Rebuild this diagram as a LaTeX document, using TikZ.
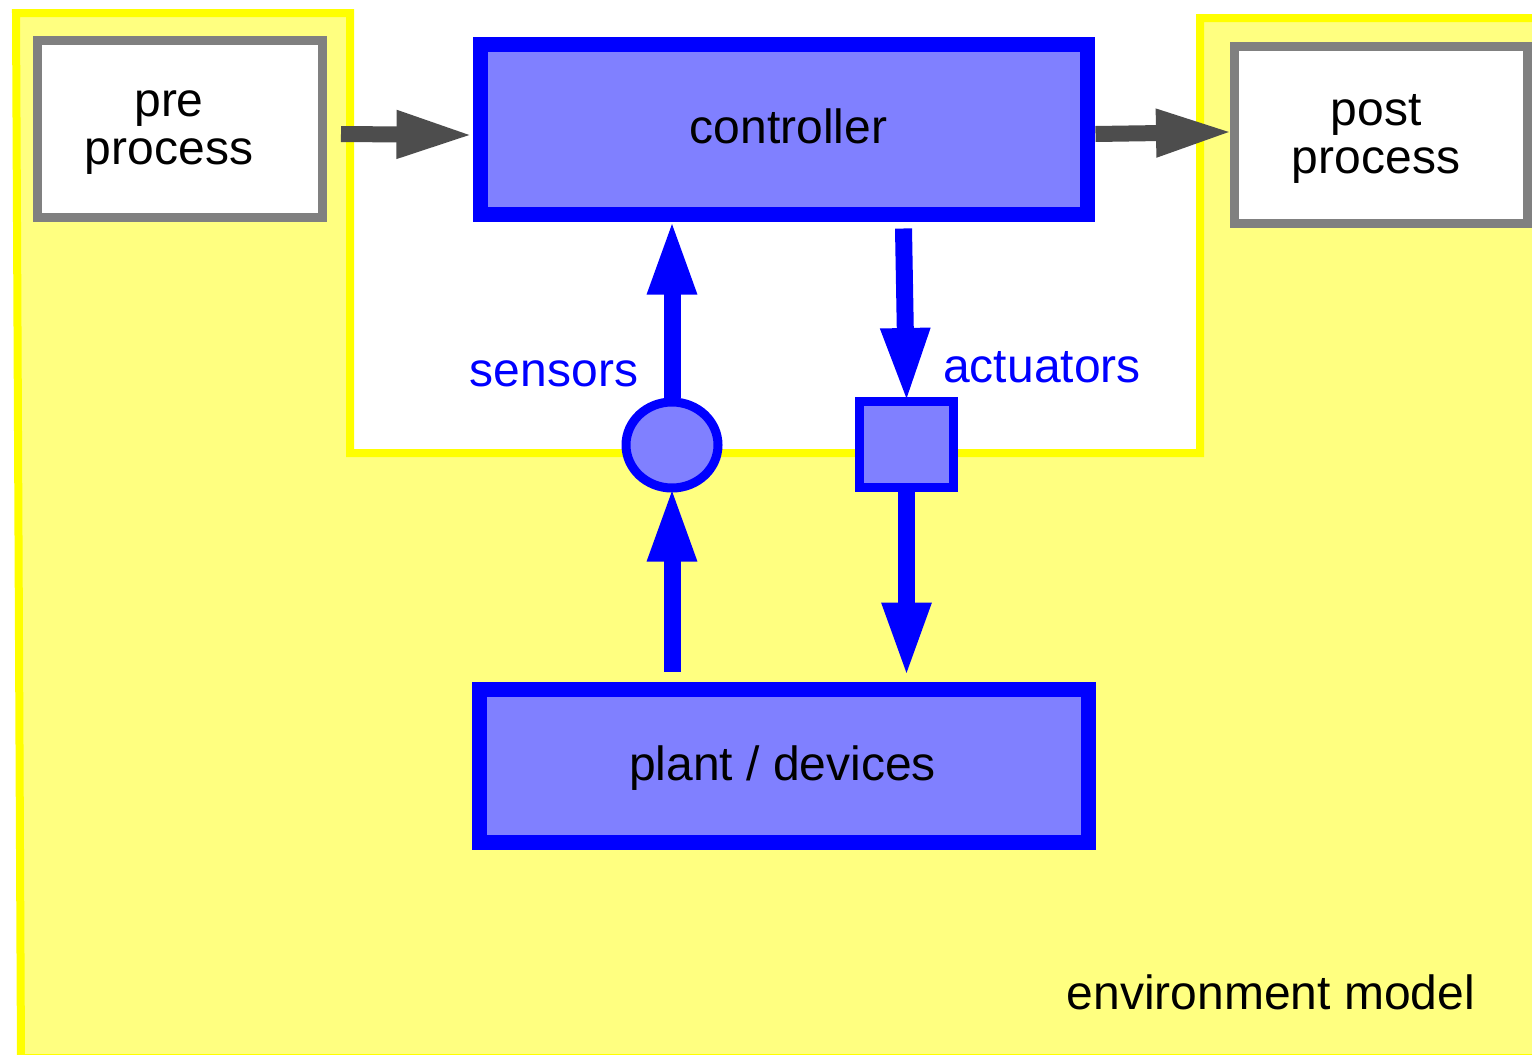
\documentclass[tikz,border=0pt]{standalone}
\usepackage{fontspec}
\setmainfont{Liberation Sans}
\usetikzlibrary{arrows.meta,shapes.geometric,calc}
\definecolor{envfill}{HTML}{FFFF80}
\definecolor{envline}{HTML}{FFFF00}
\definecolor{boxfill}{HTML}{8080FF}
\definecolor{boxline}{HTML}{0000FF}
\definecolor{procline}{HTML}{808080}
\definecolor{flowgray}{HTML}{4D4D4D}
\tikzset{
  txt/.style={font=\fontsize{48}{48}\selectfont, align=center, inner sep=0pt},
  procbox/.style={draw=procline, line width=9pt, fill=white, inner sep=0pt},
  mainbox/.style={draw=boxline, line width=15pt, fill=boxfill, inner sep=0pt},
  portbox/.style={draw=boxline, line width=9pt, fill=boxfill, inner sep=0pt},
  grayflow/.style={draw=flowgray, line width=16pt, shorten >=-5pt, -{Triangle[length=77pt,width=44pt]}},
  blueflow/.style={draw=boxline, line width=17pt, shorten >=-6pt, -{Triangle[length=75pt,width=45pt]}},
  bluelabel/.style={txt, text=boxline}
}
\begin{document}
\begin{tikzpicture}[x=1pt,y=-1pt]
  \useasboundingbox (0,0) rectangle (1532,1055);
  \fill[white] (0,0) rectangle (1532,1055);
  % environment model region
  \draw[envline, fill=envfill, line width=8pt, line join=miter]
    (16,13) -- (350,13) -- (350,453) -- (1200,453) -- (1200,18)
    -- (1540,18) -- (1540,1058) -- (21,1058) -- cycle;
  \node[txt] (env) at (1271,992) {environment model};

  % processing blocks
  \node[procbox, minimum width=285pt, minimum height=177pt] (pre) at (180,129) {};
  \node[procbox, minimum width=293pt, minimum height=177pt] (post) at (1381,135) {};
  \node[mainbox, minimum width=607pt, minimum height=170pt] (ctrl) at (783.5,129) {};
  \node[mainbox, minimum width=609pt, minimum height=153pt] (plant) at (783.5,765.5) {};
  \node[txt] (pretxt) at ($(pre)+(-11,4)$) {pre\\process};
  \node[txt] (posttxt) at ($(post)+(-5,4)$) {post\\process};
  \node[txt] (ctrltxt) at ($(ctrl)+(5,-3)$) {controller};
  \node[txt] (planttxt) at ($(plant)+(-1,3)$) {plant / devices};

  % interface elements
  \node[portbox, ellipse, minimum width=92pt, minimum height=86pt] (sens) at (672,445) {};
  \node[portbox, rectangle, minimum width=94pt, minimum height=86pt] (act) at (906.5,444.5) {};
  \node[bluelabel] (senslbl) at (554,374) {sensors};
  \node[bluelabel] (actlbl) at (1042,367) {actuators};

  % data flow
  \draw[grayflow] ($(pre.east)+(14,5)$) -- ($(ctrl.west)+(-4,6)$);
  \draw[grayflow] ($(ctrl.east)+(1,5)$) -- ($(post.west)+(-2,-3)$);
  \draw[blueflow] (sens.north) -- ($(sens.north |- ctrl.south)+(0,4)$);
  \draw[blueflow] ($(sens.south |- plant.north)+(0,-10)$) -- (sens.south);
  \draw[blueflow] ($(act.north |- ctrl.south)+(-3,7)$) -- (act.north);
  \draw[blueflow] (act.south) -- ($(act.south |- plant.north)+(0,-10)$);
\end{tikzpicture}
\end{document}
